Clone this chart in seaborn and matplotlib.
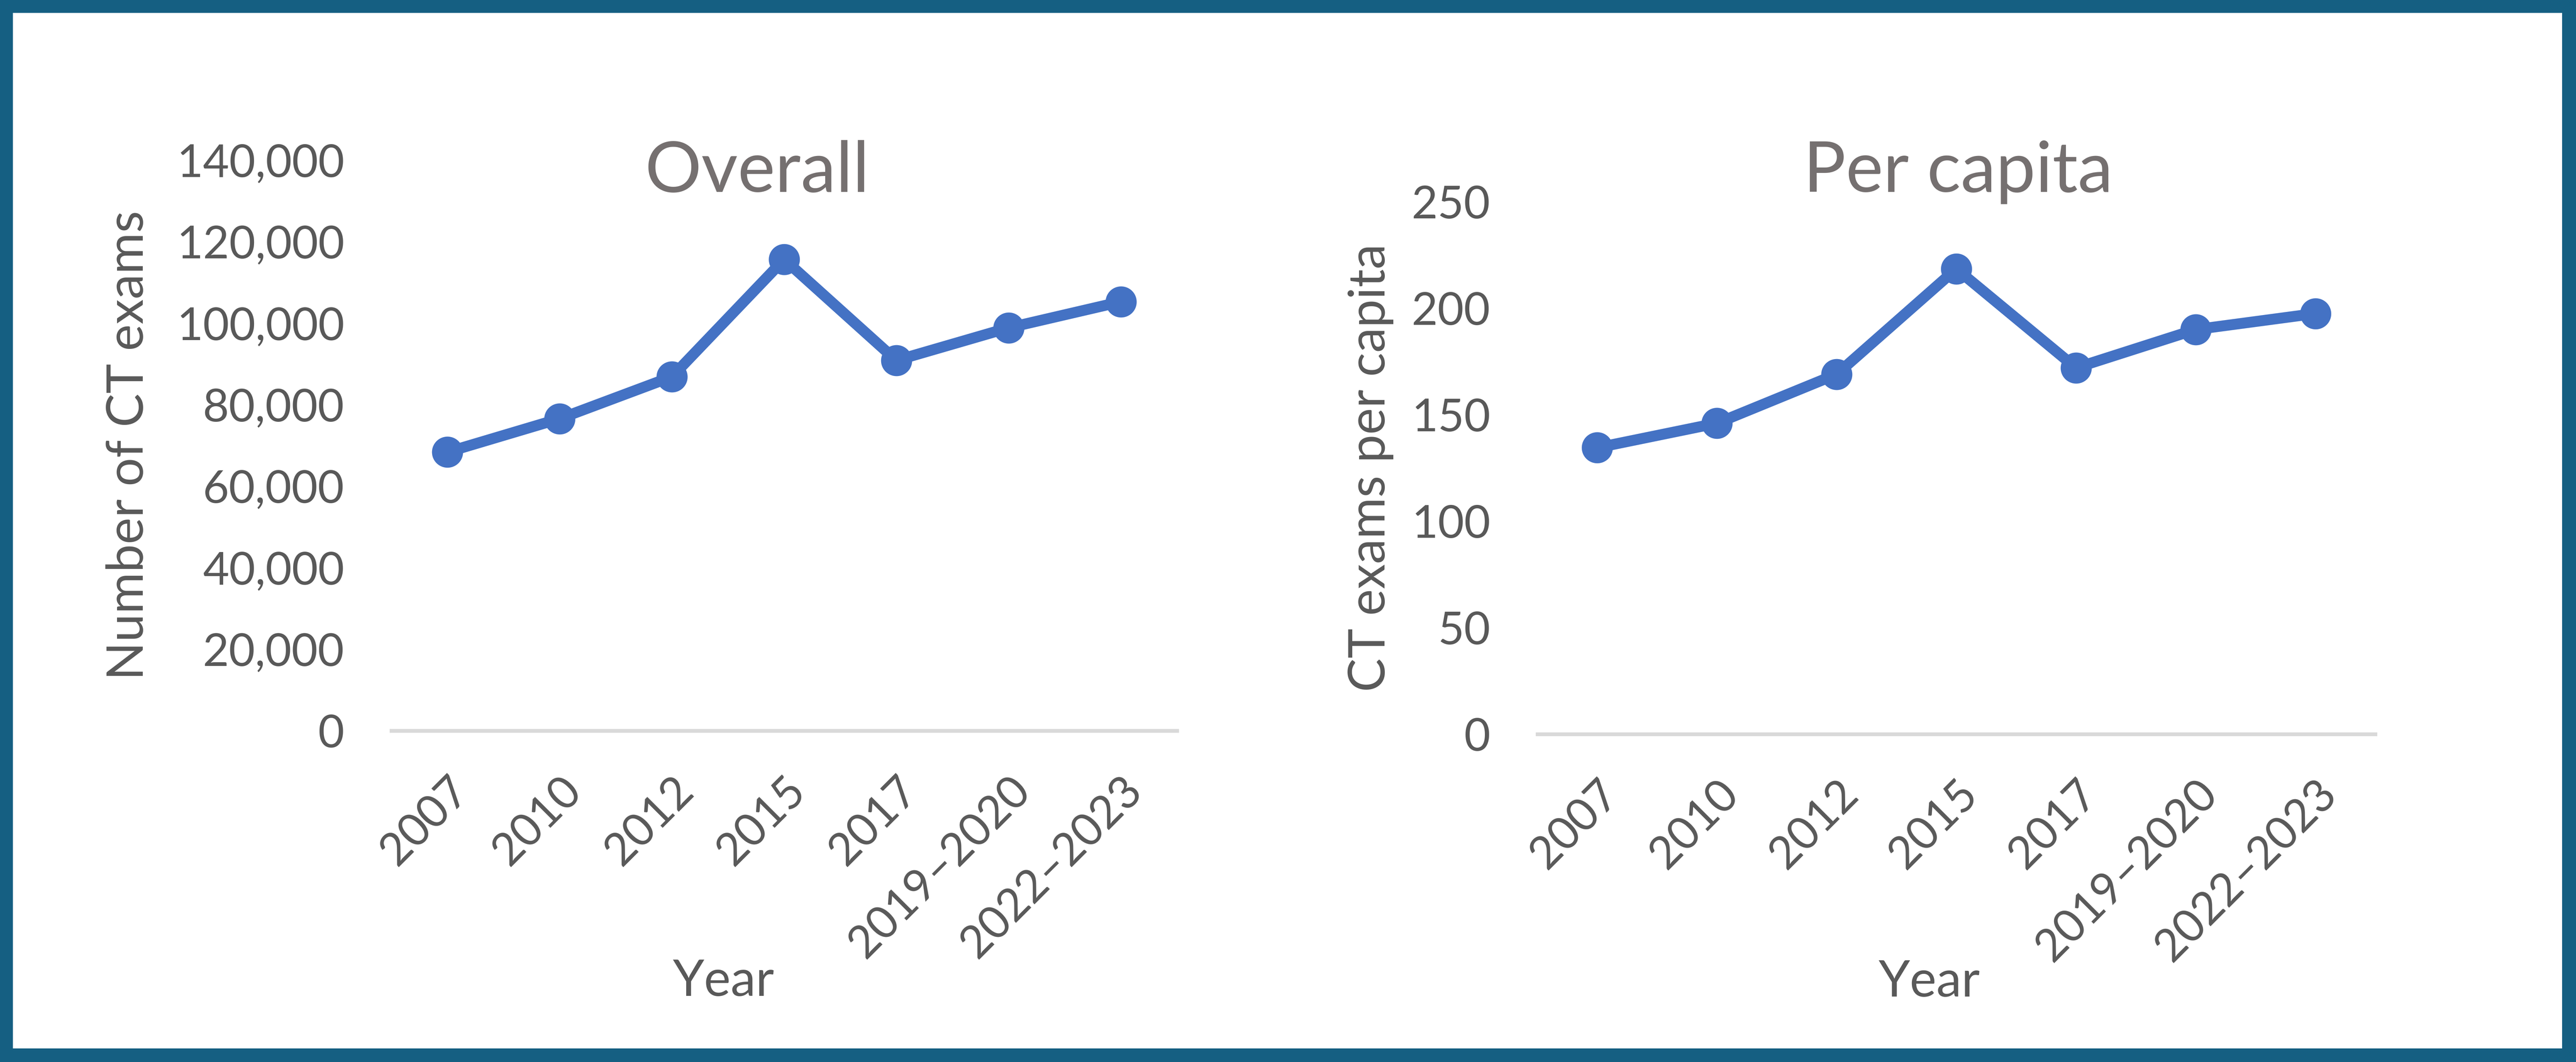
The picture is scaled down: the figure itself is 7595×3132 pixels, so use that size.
import pandas as pd
import matplotlib.pyplot as plt
import seaborn as sns
from matplotlib.patches import Rectangle
from matplotlib.ticker import FuncFormatter

# Datos del gráfico
years = ['2007', '2010', '2012', '2015', '2017', '2019–2020', '2022–2023']
overall_exams = [68400, 76600, 86900, 115700, 90900, 98900, 105300]
per_capita_exams = [134.5, 146, 169, 218.5, 172, 190, 197.5]

overall_ticks = [0, 20000, 40000, 60000, 80000, 100000, 120000, 140000]
per_capita_ticks = [0, 50, 100, 150, 200, 250]

W, H = 7596, 3132
DPI = 100

LINE_COLOR = '#4472C4'
TEXT_COLOR = '#595959'
TITLE_COLOR = '#757070'
BORDER_COLOR = '#155F82'
AXIS_COLOR = '#D9D9D9'

sns.set_style('white')
plt.rcParams['font.family'] = ['Lato', 'DejaVu Sans']

fig = plt.figure(figsize=(W / DPI, H / DPI), dpi=DPI)
fig.patch.set_facecolor(BORDER_COLOR)
fig.add_artist(Rectangle((38 / W, 40 / H), (7554 - 38) / W, (3094 - 40) / H,
                         transform=fig.transFigure, facecolor='white',
                         edgecolor='none', zorder=0))


def px_box(x0, x1, top, bottom):
    # convierte coordenadas en pixeles (origen arriba) a fracciones de figura
    return [x0 / W, (H - bottom) / H, (x1 - x0) / W, (bottom - top) / H]


ax1 = fig.add_axes(px_box(1154, 3470, 473, 2155))
ax2 = fig.add_axes(px_box(4533, 7003, 595, 2165))

df1 = pd.DataFrame({'Year': years, 'Value': overall_exams})
df2 = pd.DataFrame({'Year': years, 'Value': per_capita_exams})

paneles = [
    (ax1, df1, overall_ticks, 'Number of CT exams', 'Overall',
     -0.334, (0.4227, -0.440), 2232),
    (ax2, df2, per_capita_ticks, 'CT exams per capita', 'Per capita',
     -0.199, (0.4676, -0.466), 5773),
]

for ax, df, ticks, ylabel, title, ylab_x, xlab_xy, title_x in paneles:
    ax.set_facecolor('none')
    sns.lineplot(data=df, x='Year', y='Value', ax=ax, sort=False,
                 color=LINE_COLOR, linewidth=23, marker='o', markersize=66,
                 markeredgecolor=LINE_COLOR, markeredgewidth=0)
    ax.set_xlim(-0.5, len(years) - 0.5)
    ax.set_ylim(ticks[0], ticks[-1])
    ax.set_yticks(ticks)
    ax.yaxis.set_major_formatter(FuncFormatter(lambda v, p: f'{int(v):,}'))

    for side in ['top', 'left', 'right']:
        ax.spines[side].set_visible(False)
    ax.spines['bottom'].set_color(AXIS_COLOR)
    ax.spines['bottom'].set_linewidth(8)
    ax.spines['bottom'].set_zorder(0)

    ax.tick_params(axis='y', length=0, pad=100, labelsize=96, labelcolor=TEXT_COLOR)
    ax.tick_params(axis='x', length=0, pad=82, labelsize=96, labelcolor=TEXT_COLOR)
    for lbl in ax.get_xticklabels():
        lbl.set_rotation(45)
        lbl.set_rotation_mode('anchor')
        lbl.set_ha('right')
        lbl.set_va('top')

    ax.set_ylabel(ylabel, fontsize=107, color=TEXT_COLOR)
    ax.yaxis.label.set_va('center')
    ax.yaxis.set_label_coords(ylab_x, 0.5)

    ax.set_xlabel('Year', fontsize=107, color=TEXT_COLOR)
    ax.xaxis.label.set_va('center')
    ax.xaxis.set_label_coords(*xlab_xy)

    fig.text(title_x / W, (H - 566) / H, title, fontsize=150,
             color=TITLE_COLOR, ha='center', va='baseline')

fig.savefig('out.png', dpi=DPI, facecolor=fig.get_facecolor())
